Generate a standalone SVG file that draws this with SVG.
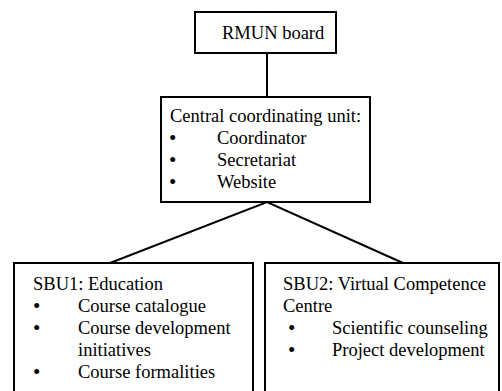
<svg xmlns="http://www.w3.org/2000/svg" width="502" height="391" viewBox="0 0 502 391" font-family="Liberation Serif, Times New Roman, Times, serif" font-size="18.5">
<style>
.box{fill:#fff;stroke:#000;stroke-width:2}
.conn{stroke:#000;stroke-width:2;fill:none}
.b{font-size:21px}
</style>
<rect width="502" height="391" fill="#fff"/>
<g id="connectors">
<line class="conn" x1="267" y1="53" x2="267" y2="97"/>
<polyline class="conn" points="110,263 267,202 403,263"/>
</g>
<g id="rmun-board">
<rect class="box" x="195" y="12" width="141" height="41"/>
<text x="222" y="39">RMUN board</text>
</g>
<g id="central-unit">
<rect class="box" x="161" y="97" width="209" height="105"/>
<text x="170" y="122">Central coordinating unit:</text>
<text class="b" x="169" y="145">•</text><text x="217" y="144">Coordinator</text>
<text class="b" x="169" y="167">•</text><text x="217" y="166">Secretariat</text>
<text class="b" x="169" y="189">•</text><text x="217" y="188">Website</text>
</g>
<g id="sbu1">
<rect class="box" x="14" y="263" width="239" height="140"/>
<text x="33" y="290">SBU1: Education</text>
<text class="b" x="33" y="313">•</text><text x="78" y="312">Course catalogue</text>
<text class="b" x="33" y="335">•</text><text x="78" y="334">Course development</text>
<text x="78" y="356">initiatives</text>
<text class="b" x="33" y="379">•</text><text x="78" y="378">Course formalities</text>
</g>
<g id="sbu2">
<rect class="box" x="265" y="263" width="234" height="140"/>
<text x="283" y="290">SBU2: Virtual Competence</text>
<text x="283" y="312">Centre</text>
<text class="b" x="288" y="335">•</text><text x="332" y="334">Scientific counseling</text>
<text class="b" x="288" y="357">•</text><text x="332" y="356">Project development</text>
</g>
</svg>
